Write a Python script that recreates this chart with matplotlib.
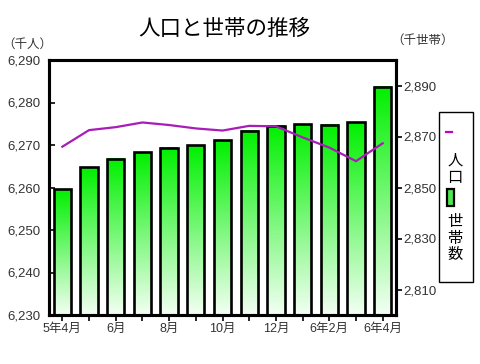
import numpy as np
import matplotlib
matplotlib.use("Agg")
import matplotlib.pyplot as plt
from matplotlib.colors import LinearSegmentedColormap
from matplotlib.patches import Rectangle
from matplotlib.lines import Line2D

plt.rcParams['font.family'] = ['Liberation Sans', 'Noto Sans CJK JP', 'DejaVu Sans']

# data
months = ['5年4月', '', '6月', '', '8月', '', '10月', '', '12月', '', '6年2月', '', '6年4月']
households = [2849.3, 2857.9, 2861.3, 2863.8, 2865.6, 2866.5, 2868.5,
              2872.3, 2874.2, 2874.8, 2874.6, 2875.6, 2889.5]
population = [6269.6, 6273.5, 6274.2, 6275.3, 6274.7, 6273.9, 6273.4,
              6274.5, 6274.4, 6271.8, 6269.4, 6266.2, 6270.4]

W, H = 481, 364
fig = plt.figure(figsize=(W / 100, H / 100), dpi=100)
ax = fig.add_axes([49 / W, 1 - 315 / H, (396 - 49) / W, (315 - 60) / H])
ax2 = ax.twinx()

x = np.arange(len(months))
bw = 0.65
cmap = LinearSegmentedColormap.from_list('g', ['#f4fff4', '#00f000'])
grad = np.linspace(0, 1, 256).reshape(-1, 1)

# bars (households) on the right axis
for xi, v in zip(x, households):
    ax.imshow(grad, cmap=cmap, origin='lower', aspect='auto',
              extent=[xi - bw / 2, xi + bw / 2, 2800, v], zorder=2)
    ax.add_patch(Rectangle((xi - bw / 2, 2800), bw, v - 2800, fill=False,
                           edgecolor='black', linewidth=1.9, zorder=3))
ax.set_xlim(-0.5, len(months) - 0.5)
ax.set_ylim(2800, 2900)
ax.yaxis.tick_right()
ax.set_yticks([2810, 2830, 2850, 2870, 2890])
ax.set_yticklabels([f'{v:,}' for v in [2810, 2830, 2850, 2870, 2890]])
ax.tick_params(axis='y', direction='out', length=4, width=1.2, pad=1,
               labelsize=9.5, labelcolor='#333333')

ax.set_xticks(x)
ax.set_xticklabels(months)
ax.tick_params(axis='x', direction='out', length=4, width=1.2, pad=2,
               labelsize=9, labelcolor='#333333')

# line (population) on the left axis
ax2.plot(x, population, color='#a81cb8', linewidth=1.6, zorder=5)
ax2.set_ylim(6230, 6290)
ax2.yaxis.tick_left()
ax2.set_yticks(np.arange(6230, 6291, 10))
ax2.set_yticklabels([f'{v:,}' for v in np.arange(6230, 6291, 10)])
ax2.tick_params(axis='y', direction='in', length=4, width=1.2, pad=6,
                labelsize=9.5, labelcolor='#333333')

for a in (ax, ax2):
    for s in a.spines.values():
        s.set_linewidth(2.2)

fig.text(224 / W, 1 - 29 / H, '人口と世帯の推移', ha='center', va='center',
         fontsize=15.5, family=['Noto Sans CJK JP'])
fig.text(2 / W, 1 - 44 / H, '（千人）', ha='left', va='center',
         fontsize=9, family=['Noto Sans CJK JP'], color='#333333')
fig.text(391 / W, 1 - 40 / H, '（千世帯）', ha='left', va='center',
         fontsize=9, family=['Noto Sans CJK JP'], color='#333333')

# legend box
fig.patches.append(Rectangle((439 / W, 1 - 282 / H), 34 / W, 170 / H,
                             transform=fig.transFigure, fill=False,
                             edgecolor='black', linewidth=1.0))
fig.lines.append(Line2D([446 / W, 452 / W], [1 - 132 / H, 1 - 132 / H],
                        transform=fig.transFigure, color='#c000c8', linewidth=1.6))
fig.text(455 / W, 1 - 169 / H, '人\n口', ha='center', va='center',
         fontsize=11, linespacing=1.0, family=['Noto Sans CJK JP'])
gp = Rectangle((447 / W, 1 - 206 / H), 7 / W, 17 / H, transform=fig.transFigure,
               facecolor='#50e850', edgecolor='black', linewidth=1.6)
fig.patches.append(gp)
fig.text(455 / W, 1 - 238 / H, '世\n帯\n数', ha='center', va='center',
         fontsize=11, linespacing=0.95, family=['Noto Sans CJK JP'])

fig.savefig('out.png', dpi=100)
